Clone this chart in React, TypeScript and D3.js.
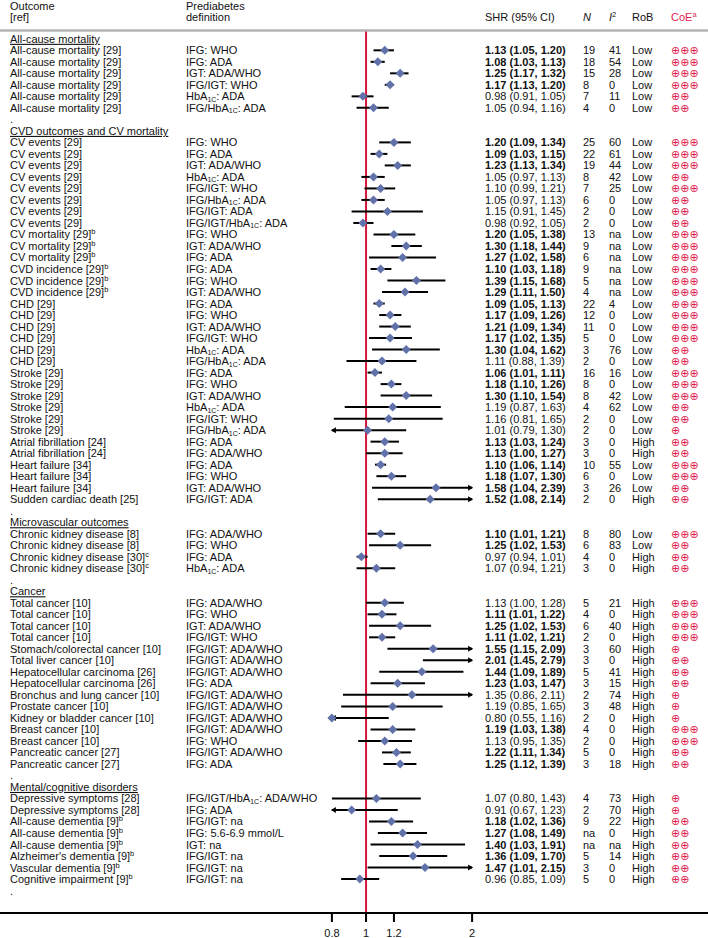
import React from "react"
import * as d3 from "d3"

// --- data ---
const sections = [
	"All-cause mortality",
	"CVD outcomes and CV mortality",
	"Microvascular outcomes",
	"Cancer",
	"Mental/cognitive disorders",
]
const sectionSizes = [6, 32, 4, 15, 8]

// "^x" marks a superscript footnote
const outcomes = [
	"All-cause mortality [29]", "All-cause mortality [29]", "All-cause mortality [29]",
	"All-cause mortality [29]", "All-cause mortality [29]", "All-cause mortality [29]",
	"CV events [29]", "CV events [29]", "CV events [29]", "CV events [29]",
	"CV events [29]", "CV events [29]", "CV events [29]", "CV events [29]",
	"CV mortality [29]^b", "CV mortality [29]^b", "CV mortality [29]^b",
	"CVD incidence [29]^b", "CVD incidence [29]^b", "CVD incidence [29]^b",
	"CHD [29]", "CHD [29]", "CHD [29]", "CHD [29]", "CHD [29]", "CHD [29]",
	"Stroke [29]", "Stroke [29]", "Stroke [29]", "Stroke [29]", "Stroke [29]", "Stroke [29]",
	"Atrial fibrillation [24]", "Atrial fibrillation [24]",
	"Heart failure [34]", "Heart failure [34]", "Heart failure [34]",
	"Sudden cardiac death [25]",
	"Chronic kidney disease [8]", "Chronic kidney disease [8]",
	"Chronic kidney disease [30]^c", "Chronic kidney disease [30]^c",
	"Total cancer [10]", "Total cancer [10]", "Total cancer [10]", "Total cancer [10]",
	"Stomach/colorectal cancer [10]", "Total liver cancer [10]",
	"Hepatocellular carcinoma [26]", "Hepatocellular carcinoma [26]",
	"Bronchus and lung cancer [10]", "Prostate cancer [10]", "Kidney or bladder cancer [10]",
	"Breast cancer [10]", "Breast cancer [10]",
	"Pancreatic cancer [27]", "Pancreatic cancer [27]",
	"Depressive symptoms [28]", "Depressive symptoms [28]",
	"All-cause dementia [9]^b", "All-cause dementia [9]^b", "All-cause dementia [9]^b",
	"Alzheimer's dementia [9]^b", "Vascular dementia [9]^b", "Cognitive impairment [9]^b",
]

const definitions = [
	"IFG: WHO", "IFG: ADA", "IGT: ADA/WHO", "IFG/IGT: WHO", "HbA1C: ADA", "IFG/HbA1C: ADA",
	"IFG: WHO", "IFG: ADA", "IGT: ADA/WHO", "HbA1C: ADA", "IFG/IGT: WHO", "IFG/HbA1C: ADA",
	"IFG/IGT: ADA", "IFG/IGT/HbA1C: ADA",
	"IFG: WHO", "IGT: ADA/WHO", "IFG: ADA",
	"IFG: ADA", "IFG: WHO", "IGT: ADA/WHO",
	"IFG: ADA", "IFG: WHO", "IGT: ADA/WHO", "IFG/IGT: WHO", "HbA1C: ADA", "IFG/HbA1C: ADA",
	"IFG: ADA", "IFG: WHO", "IGT: ADA/WHO", "HbA1C: ADA", "IFG/IGT: WHO", "IFG/HbA1C: ADA",
	"IFG: ADA", "IFG: ADA/WHO",
	"IFG: ADA", "IFG: WHO", "IGT: ADA/WHO",
	"IFG/IGT: ADA",
	"IFG: ADA/WHO", "IFG: WHO", "IFG: ADA", "HbA1C: ADA",
	"IFG: ADA/WHO", "IFG: WHO", "IGT: ADA/WHO", "IFG/IGT: WHO",
	"IFG/IGT: ADA/WHO", "IFG/IGT: ADA/WHO", "IFG/IGT: ADA/WHO", "IFG: ADA",
	"IFG/IGT: ADA/WHO", "IFG/IGT: ADA/WHO", "IFG/IGT: ADA/WHO",
	"IFG/IGT: ADA/WHO", "IFG: WHO", "IFG/IGT: ADA/WHO", "IFG: ADA",
	"IFG/IGT/HbA1C: ADA/WHO", "IFG: ADA", "IFG/IGT: na", "IFG: 5.6-6.9 mmol/L", "IGT: na",
	"IFG/IGT: na", "IFG/IGT: na", "IFG/IGT: na",
]

const shr = [
	1.13, 1.08, 1.25, 1.17, 0.98, 1.05,
	1.2, 1.09, 1.23, 1.05, 1.1, 1.05, 1.15, 0.98,
	1.2, 1.3, 1.27,
	1.1, 1.39, 1.29,
	1.09, 1.17, 1.21, 1.17, 1.3, 1.11,
	1.06, 1.18, 1.3, 1.19, 1.16, 1.01,
	1.13, 1.13,
	1.1, 1.18, 1.58,
	1.52,
	1.1, 1.25, 0.97, 1.07,
	1.13, 1.11, 1.25, 1.11, 1.55, 2.01, 1.44, 1.23, 1.35, 1.19, 0.8, 1.19, 1.13, 1.22, 1.25,
	1.07, 0.91, 1.18, 1.27, 1.4, 1.36, 1.47, 0.96,
]
const ciLow = [
	1.05, 1.03, 1.17, 1.13, 0.91, 0.94,
	1.09, 1.03, 1.13, 0.97, 0.99, 0.97, 0.91, 0.92,
	1.05, 1.18, 1.02,
	1.03, 1.15, 1.11,
	1.05, 1.09, 1.09, 1.02, 1.04, 0.88,
	1.01, 1.1, 1.1, 0.87, 0.81, 0.79,
	1.03, 1.0,
	1.06, 1.07, 1.04,
	1.08,
	1.01, 1.02, 0.94, 0.94,
	1.0, 1.01, 1.02, 1.02, 1.15, 1.45, 1.09, 1.03, 0.86, 0.85, 0.55, 1.03, 0.95, 1.11, 1.12,
	0.8, 0.67, 1.02, 1.08, 1.03, 1.09, 1.01, 0.85,
]
const ciHigh = [
	1.2, 1.13, 1.32, 1.2, 1.05, 1.16,
	1.34, 1.15, 1.34, 1.13, 1.21, 1.13, 1.45, 1.05,
	1.38, 1.44, 1.58,
	1.18, 1.68, 1.5,
	1.13, 1.26, 1.34, 1.35, 1.62, 1.39,
	1.11, 1.26, 1.54, 1.63, 1.65, 1.3,
	1.24, 1.27,
	1.14, 1.3, 2.39,
	2.14,
	1.21, 1.53, 1.01, 1.21,
	1.28, 1.22, 1.53, 1.21, 2.09, 2.79, 1.89, 1.47, 2.11, 1.65, 1.16, 1.38, 1.35, 1.34, 1.39,
	1.43, 1.23, 1.36, 1.49, 1.91, 1.7, 2.15, 1.09,
]
const significant = [
	1, 1, 1, 1, 0, 0,
	1, 1, 1, 0, 0, 0, 0, 0,
	1, 1, 1,
	1, 1, 1,
	1, 1, 1, 1, 1, 0,
	1, 1, 1, 0, 0, 0,
	1, 1,
	1, 1, 1,
	1,
	1, 1, 0, 0,
	0, 1, 1, 1, 1, 1, 1, 1, 0, 0, 0, 1, 0, 1, 1,
	0, 0, 1, 1, 1, 1, 1, 0,
]
const studies = [
	"19", "18", "15", "8", "7", "4",
	"25", "22", "19", "8", "7", "6", "2", "2",
	"13", "9", "6",
	"9", "5", "4",
	"22", "12", "11", "5", "3", "2",
	"16", "8", "8", "4", "2", "2",
	"3", "3",
	"10", "6", "3",
	"2",
	"8", "6", "4", "3",
	"5", "4", "6", "2", "3", "3", "5", "3", "2", "3", "2", "4", "2", "5", "3",
	"4", "2", "9", "na", "na", "5", "3", "5",
]
const iSquared = [
	"41", "54", "28", "0", "11", "0",
	"60", "61", "44", "42", "25", "0", "0", "0",
	"na", "na", "na",
	"na", "na", "na",
	"4", "0", "0", "0", "76", "0",
	"16", "0", "42", "62", "0", "0",
	"0", "0",
	"55", "0", "26",
	"0",
	"80", "83", "0", "0",
	"21", "0", "40", "0", "60", "0", "41", "15", "74", "48", "0", "0", "0", "0", "18",
	"73", "70", "22", "0", "na", "14", "0", "0",
]
const riskOfBias = [
	"Low", "Low", "Low", "Low", "Low", "Low",
	"Low", "Low", "Low", "Low", "Low", "Low", "Low", "Low",
	"Low", "Low", "Low",
	"Low", "Low", "Low",
	"Low", "Low", "Low", "Low", "Low", "Low",
	"Low", "Low", "Low", "Low", "Low", "Low",
	"High", "High",
	"Low", "Low", "Low",
	"High",
	"Low", "Low", "High", "High",
	"High", "High", "High", "High", "High", "High", "High", "High",
	"High", "High", "High", "High", "High", "High", "High",
	"High", "High", "High", "High", "High", "High", "High", "High",
]
const certainty = [
	3, 3, 3, 3, 2, 2,
	3, 3, 3, 2, 3, 2, 2, 2,
	3, 3, 3,
	3, 3, 3,
	3, 3, 3, 3, 2, 2,
	3, 3, 3, 2, 2, 1,
	2, 2,
	3, 3, 2,
	2,
	3, 2, 2, 2,
	3, 3, 3, 3, 1, 2, 2, 2, 1, 1, 1, 3, 3, 2, 2,
	1, 1, 2, 2, 2, 2, 2, 2,
]
const axisTicks = [0.8, 1, 1.2, 2]

// --- layout ---
const W = 708
const H = 938
const FONT = "'Liberation Sans', Arial, Helvetica, sans-serif"
const FS = 11
const ROW0 = 38.8
const STEP = 11.51
const X_OUT = 10
const X_DEF = 186
const X_SHR = 485
const X_N = 583
const X_I2 = 609
const X_ROB = 632
const X_COE = 671
const AXIS_Y = 913
const RED = "#d4163c"
const COE_RED = "#e01d50"
const DIAMOND = "#6171a9"

const x = d3.scaleLog().domain([0.8, 2]).range([331.9, 472.1])

type Line =
	| { kind: "section"; label: string; line: number }
	| { kind: "dot"; line: number }
	| { kind: "row"; i: number; line: number }

const lines: Line[] = []
{
	let line = 0
	let i = 0
	sections.forEach((s, si) => {
		lines.push({ kind: "section", label: s, line: line++ })
		for (let k = 0; k < sectionSizes[si]; k++) lines.push({ kind: "row", i: i++, line: line++ })
		lines.push({ kind: "dot", line: line++ })
	})
}
const yOf = (line: number) => ROW0 + line * STEP

const OutcomeText = ({ label, y }: { label: string; y: number }) => {
	const [main, sup] = label.split("^")
	return (
		<text x={X_OUT} y={y}>
			{main}
			{sup && (
				<tspan dy={-4} fontSize={7.5}>
					{sup}
				</tspan>
			)}
		</text>
	)
}

const DefinitionText = ({ label, y }: { label: string; y: number }) => {
	const parts = label.split("HbA1C")
	return (
		<text x={X_DEF} y={y}>
			{parts.map((p, k) => (
				<React.Fragment key={k}>
					{k > 0 && (
						<>
							<tspan>HbA</tspan>
							<tspan dy={1.5} fontSize={7}>
								1C
							</tspan>
							<tspan dy={-1.5}>{p}</tspan>
						</>
					)}
					{k === 0 && p}
				</React.Fragment>
			))}
		</text>
	)
}

const fmt = (v: number) => v.toFixed(2)

const Row = ({ i, y }: { i: number; y: number }) => {
	const ty = y + 4
	const lo = ciLow[i]
	const hi = ciHigh[i]
	const [d0, d1] = x.domain()
	const x0 = x(Math.max(lo, d0))
	const x1 = x(Math.min(hi, d1))
	const showPoint = shr[i] >= d0 && shr[i] <= d1
	const px = x(shr[i])
	return (
		<g>
			<OutcomeText label={outcomes[i]} y={ty} />
			<DefinitionText label={definitions[i]} y={ty} />
			<line x1={x0} x2={x1} y1={y} y2={y} stroke="#000" strokeWidth={2} />
			{lo < d0 && <path d={`M${x0 - 1},${y} L${x0 + 4},${y - 3} L${x0 + 4},${y + 3} Z`} fill="#000" />}
			{hi > d1 && <path d={`M${x1 + 1},${y} L${x1 - 4},${y - 3} L${x1 - 4},${y + 3} Z`} fill="#000" />}
			{showPoint && (
				<path d={`M${px},${y - 4.5} L${px + 4.5},${y} L${px},${y + 4.5} L${px - 4.5},${y} Z`} fill={DIAMOND} />
			)}
			<text x={X_SHR} y={ty} fontWeight={significant[i] ? "bold" : "normal"}>
				{`${fmt(shr[i])} (${fmt(lo)}, ${fmt(hi)})`}
			</text>
			<text x={X_N} y={ty}>{studies[i]}</text>
			<text x={X_I2} y={ty}>{iSquared[i]}</text>
			<text x={X_ROB} y={ty}>{riskOfBias[i]}</text>
			<text x={X_COE} y={ty} fill={COE_RED} fontFamily="'DejaVu Sans', sans-serif" fontSize={11}>
				{"\u2295".repeat(certainty[i])}
			</text>
		</g>
	)
}

export default function App() {
	return (
		<svg
			width={W}
			height={H}
			viewBox={`0 0 ${W} ${H}`}
			style={{ position: "absolute", left: 0, top: 0, background: "#fff" }}
			fontFamily={FONT}
			fontSize={FS}
			fill="#111"
		>
			{/* header */}
			<text x={X_OUT} y={9.5}>Outcome</text>
			<text x={X_OUT} y={21}>[ref]</text>
			<text x={X_DEF} y={9.5}>Prediabetes</text>
			<text x={X_DEF} y={21}>definition</text>
			<text x={X_SHR} y={21}>SHR (95% CI)</text>
			<text x={X_N} y={21} fontStyle="italic">N</text>
			<text x={X_I2} y={21}>
				<tspan fontStyle="italic">I</tspan>
				<tspan dy={-4} fontSize={7.5}>2</tspan>
			</text>
			<text x={X_ROB} y={21}>RoB</text>
			<text x={X_COE} y={21} fill={COE_RED}>
				CoE
				<tspan dy={-4} fontSize={7.5}>a</tspan>
			</text>
			<line x1={0} x2={W} y1={30.5} y2={30.5} stroke="#b5b5b5" strokeWidth={2.5} />

			{/* reference line */}
			<line x1={x(1)} x2={x(1)} y1={31.5} y2={AXIS_Y} stroke={RED} strokeWidth={2} />

			{lines.map((l) => {
				const y = yOf(l.line)
				if (l.kind === "section")
					return (
						<text key={l.line} x={X_OUT} y={y + 4} style={{ textDecoration: "underline" }}>
							{l.label}
						</text>
					)
				if (l.kind === "dot")
					return (
						<text key={l.line} x={X_OUT} y={y + 4}>
							.
						</text>
					)
				return <Row key={l.line} i={l.i} y={y} />
			})}

			{/* axis */}
			<line x1={0} x2={W} y1={AXIS_Y} y2={AXIS_Y} stroke="#000" strokeWidth={2} />
			{axisTicks.map((t) => (
				<g key={t} transform={`translate(${x(t)},0)`}>
					<line y1={AXIS_Y} y2={AXIS_Y + 9} stroke="#000" strokeWidth={2} />
					<text y={937} textAnchor="middle">
						{t}
					</text>
				</g>
			))}
		</svg>
	)
}
